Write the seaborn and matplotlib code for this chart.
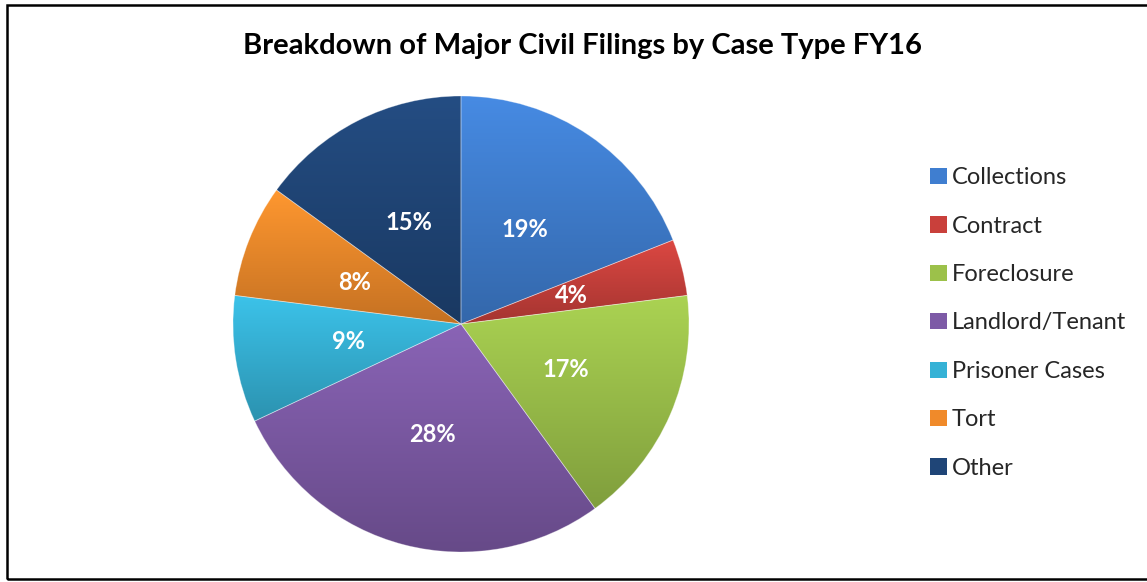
import matplotlib
matplotlib.use("Agg")
import matplotlib.pyplot as plt
import matplotlib.colors as mcolors
from matplotlib.patches import Rectangle, Patch
import numpy as np
import seaborn as sns

sns.set_theme(style="white")
plt.rcParams['font.family'] = ['Lato', 'DejaVu Sans']

# Data
case_types = ["Collections", "Contract", "Foreclosure", "Landlord/Tenant",
              "Prisoner Cases", "Tort", "Other"]
shares = [19, 4, 17, 28, 9, 8, 15]
slice_colors = ["#3f7ed0", "#c9403b", "#9cc14a", "#7d5aa6",
                "#35b2d6", "#f08a2a", "#1f4577"]
title = "Breakdown of Major Civil Filings by Case Type FY16"

W, H = 1147, 582
fig = plt.figure(figsize=(W / 100, H / 100), dpi=100)

# outer chart frame (open on the right, like the reference crop)
fig.add_artist(Rectangle((7 / W, 3.5 / H), (W + 10) / W, (H - 8.5) / H,
                         transform=fig.transFigure, fill=False,
                         edgecolor="black", linewidth=1.8))

cx, cy, r = 461, 324, 228
ax = fig.add_axes([(cx - r) / W, (H - cy - r) / H, 2 * r / W, 2 * r / H])

wedges, texts, autotexts = ax.pie(
    shares, colors=slice_colors, startangle=90, counterclock=False,
    autopct="%d%%", pctdistance=0.5, radius=1,
    wedgeprops=dict(edgecolor=(1, 1, 1, 0.35), linewidth=0.6),
    textprops=dict(color="white", fontsize=17, fontweight="bold"))

# Excel-like top-to-bottom shading on each slice
for w, c in zip(wedges, slice_colors):
    rgb = np.array(mcolors.to_rgb(c))
    top = np.clip(rgb * 1.08 + 0.01, 0, 1)
    bot = rgb * 0.82
    t = np.linspace(0, 1, 256)[:, None]
    grad = top[None, :] * (1 - t) + bot[None, :] * t
    img = np.repeat(grad[:, None, :], 2, axis=1)
    bb = w.get_path().get_extents()
    im = ax.imshow(img, extent=[bb.x0, bb.x1, bb.y0, bb.y1], origin="upper",
                   aspect="auto", zorder=w.get_zorder(), interpolation="bilinear")
    im.set_clip_path(w)
    w.set_zorder(w.get_zorder() + 0.1)
    w.set_facecolor("none")

for t in autotexts:
    t.set_zorder(5)

ax.set_xlim(-1, 1)
ax.set_ylim(-1, 1)
ax.set_aspect("equal")
ax.axis("off")

fig.text(583 / W, 1 - 46 / H, title, ha="center", va="center",
         fontsize=21, fontweight="bold", color="black")

handles = [Patch(facecolor=c, edgecolor="none") for c in slice_colors]
fig.legend(handles, case_types, loc="center left",
           bbox_to_anchor=(921 / W, 1 - 323 / H), frameon=False,
           fontsize=17, labelspacing=1.16, handlelength=0.68,
           handleheight=0.68, handletextpad=0.22, borderaxespad=0)

fig.savefig("out.png", dpi=100)
